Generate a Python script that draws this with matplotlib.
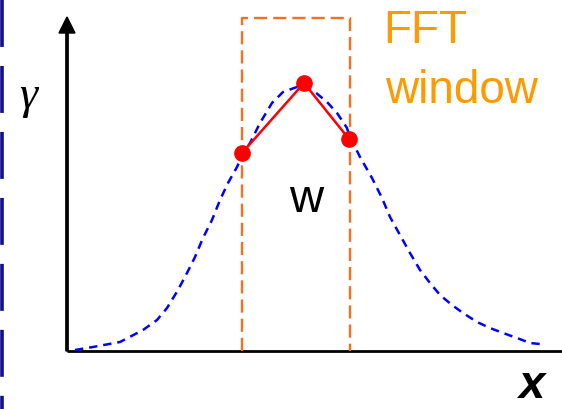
import matplotlib
matplotlib.use("Agg")
import matplotlib.pyplot as plt

plt.rcParams['lines.scale_dashes'] = False

# Profile (position along x, gamma value)
pos = [8, 26, 53, 76, 90, 100, 111, 120, 128, 136, 145, 153, 161, 170, 175, 183,
       193, 205, 216, 230, 238, 248, 260, 270, 280, 283, 288, 293, 305, 315, 323,
       333, 343, 353, 363, 373, 385, 396, 410, 423, 436, 450, 463, 473]
gamma = [1, 4, 9, 21, 31, 43, 61, 78, 94, 113, 131, 151, 168, 184, 195, 208,
         228, 248, 259, 264, 264, 259, 249, 238, 223, 213, 204, 194, 173, 153, 134,
         116, 98, 81, 68, 56, 46, 38, 29, 23, 18, 13, 8, 7]

# Sampled points inside the window
samp_x = [175, 237, 282]
samp_y = [198, 268, 212]

# FFT window extent
win_left, win_right, win_top = 175, 283, 333

fig = plt.figure(figsize=(5.62, 4.09), dpi=100)
ax = fig.add_axes([0, 0, 1, 1])
ax.set_xlim(-67, 495)
ax.set_ylim(-58, 351)
ax.axis('off')

# left edge navy dashes
ax.plot([-65.5, -65.5], [351, -58], color='#10108a', lw=2.6,
        dashes=(33.8, 13.7), solid_capstyle='butt', dash_capstyle='butt')

# axes
ax.plot([0, 495], [0, 0], color='black', lw=2.0, solid_capstyle='butt')
ax.arrow(0, 0, 0, 334, width=2.3, head_width=16, head_length=16,
         length_includes_head=True, color='black')

# gamma curve
ax.plot(pos, gamma, color='#0000ff', lw=1.8, dashes=(6, 4.3), dash_capstyle='butt')

# FFT window
ax.plot([win_left, win_left, win_right, win_right], [0, win_top, win_top, 0],
        color='#f77020', lw=1.7, dashes=(9.5, 4.3), dash_capstyle='butt')

# sampled points
ax.plot(samp_x, samp_y, color='#ff0000', lw=1.8, marker='o', markersize=11,
        markerfacecolor='#ff0000', markeredgecolor='#ff0000')

# texts
ax.text(-39, 254, 'γ', fontsize=33, family='Liberation Serif', style='italic',
        ha='center', va='center')
ax.text(316, 308, 'FFT', fontsize=33, family='Liberation Sans', color='#ff9900',
        ha='left', va='baseline')
ax.text(318, 248, 'window', fontsize=33, family='Liberation Sans', color='#ff9900',
        ha='left', va='baseline')
ax.text(239, 139, 'w', fontsize=34, family='Liberation Sans', color='black',
        ha='center', va='baseline')
ax.text(464, -57, 'x', fontsize=34, family='Liberation Sans', style='italic',
        weight='bold', color='black', ha='center', va='bottom')

fig.savefig('out.png', dpi=100)
